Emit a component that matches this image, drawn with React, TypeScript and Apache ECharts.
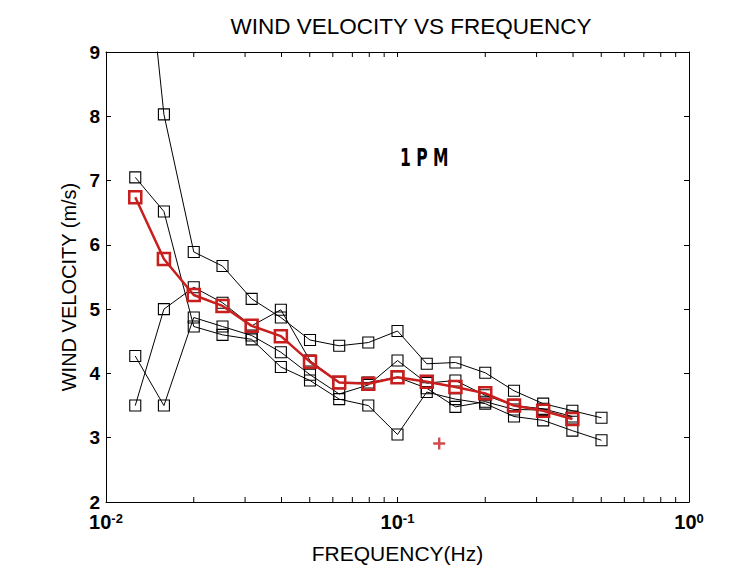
import React, { useEffect, useRef } from "react";
import * as echarts from "echarts";

const FONT = '"Liberation Sans", Arial, Helvetica, sans-serif';
const RED = "#c81e1e";

// Band-centre frequencies (Hz), one per spectral bin
const frequency = [
  0.0126, 0.0158, 0.02, 0.0251, 0.0316, 0.0398, 0.0501, 0.0631, 0.0794, 0.1,
  0.126, 0.158, 0.2, 0.251, 0.316, 0.398, 0.501,
];

// Individual 1 PM runs, wind velocity (m/s) per frequency bin
const runA = [12.3, 8.03, 5.89, 5.67, 5.16, 4.87, 4.52, 4.43, 4.48, 4.66, 4.15, 4.17, 4.01, 3.73, 3.53, 3.42, 3.31];
const runB = [7.05, 6.52, 4.73, 4.6, 4.53, 4.1, 3.89, 3.6, 3.5, 3.05, 3.71, 3.6, 3.53, 3.33, 3.27, 3.11, 2.96];
const runC = [4.27, 3.5, 4.87, 4.73, 4.59, 4.33, 3.98, 3.68, 3.82, 4.2, 3.85, 3.89, 3.66, 3.5, 3.45, 3.33];
const runD = [3.5, 5.0, 5.34, 5.1, 4.74, 4.99, 4.2, 3.86, 3.86, 3.94, 3.77, 3.48, 3.56, 3.44, 3.43, 3.3];

// Ensemble mean of the runs
const meanVelocity = [6.74, 5.78, 5.22, 5.05, 4.74, 4.58, 4.18, 3.86, 3.84, 3.94, 3.87, 3.79, 3.69, 3.5, 3.42, 3.29];

// Single isolated reading [frequency, velocity]
const isolatedReading = [0.139, 2.91];

// Log-axis minor tick positions (2..9 within each decade)
const minorTickFreqs = [
  0.02, 0.03, 0.04, 0.05, 0.06, 0.07, 0.08, 0.09,
  0.2, 0.3, 0.4, 0.5, 0.6, 0.7, 0.8, 0.9,
];

const Y_MIN = 2;
const Y_MAX = 9;
const Y_STEP = 1;
const X_MIN = 0.01;
const X_MAX = 1;

const pairs = (ys: number[]) => ys.map((y, i) => [frequency[i], y]);

const blackRun = (name: string, ys: number[]) => ({
  name,
  type: "line",
  data: pairs(ys),
  symbol: "rect",
  symbolSize: 11,
  clip: true,
  lineStyle: { color: "#000", width: 1 },
  itemStyle: { color: "rgba(0,0,0,0)", borderColor: "#000", borderWidth: 1.1 },
  emphasis: { disabled: true },
  z: 2,
});

export default function App() {
  const ref = useRef<HTMLDivElement>(null);

  useEffect(() => {
    document.body.style.margin = "0";
    if (!ref.current) return;
    const chart = echarts.init(ref.current, null, { renderer: "svg" });

    const tickLen = 5;

    chart.setOption({
      animation: false,
      backgroundColor: "#fff",
      textStyle: { fontFamily: FONT },
      title: {
        text: "WIND VELOCITY VS FREQUENCY",
        left: 406,
        textAlign: "center",
        top: 10,
        textStyle: { fontFamily: FONT, fontSize: 22.5, fontWeight: "normal", color: "#000" },
      },
      grid: { left: 106, right: 55, top: 52, bottom: 66 },
      xAxis: [
        {
          type: "log",
          logBase: 10,
          min: X_MIN,
          max: X_MAX,
          name: "FREQUENCY(Hz)",
          nameLocation: "middle",
          nameGap: 41,
          nameTextStyle: { fontFamily: FONT, fontSize: 21, color: "#000" },
          axisLine: { lineStyle: { color: "#000", width: 1 } },
          axisTick: { inside: true, length: tickLen, lineStyle: { color: "#000" } },
          splitLine: { show: false },
          axisLabel: {
            margin: 10,
            showMinLabel: true,
            showMaxLabel: true,
            formatter: (v: number) => `{b|10}{e|${Math.round(Math.log10(v))}}`,
            rich: {
              b: { fontFamily: FONT, fontSize: 20, fontWeight: "bold", color: "#000" },
              e: { fontFamily: FONT, fontSize: 13, fontWeight: "bold", color: "#000", verticalAlign: "top" },
            },
          },
        },
        {
          type: "log",
          logBase: 10,
          min: X_MIN,
          max: X_MAX,
          position: "top",
          axisLine: { lineStyle: { color: "#000", width: 1 } },
          axisTick: { inside: true, length: tickLen, lineStyle: { color: "#000" } },
          axisLabel: { show: false },
          splitLine: { show: false },
        },
      ],
      yAxis: [
        {
          type: "value",
          min: Y_MIN,
          max: Y_MAX,
          interval: Y_STEP,
          axisLine: { show: true, lineStyle: { color: "#000", width: 1 } },
          axisTick: { show: true, inside: true, length: tickLen, lineStyle: { color: "#000" } },
          splitLine: { show: false },
          axisLabel: { margin: 6, fontFamily: FONT, fontSize: 19, fontWeight: "bold", color: "#000" },
        },
        {
          type: "value",
          min: Y_MIN,
          max: Y_MAX,
          interval: Y_STEP,
          position: "right",
          axisLine: { show: true, lineStyle: { color: "#000", width: 1 } },
          axisTick: { show: true, inside: true, length: tickLen, lineStyle: { color: "#000" } },
          axisLabel: { show: false },
          splitLine: { show: false },
        },
      ],
      graphic: [
        {
          // vertical axis title
          type: "text",
          x: 69,
          y: 287,
          rotation: Math.PI / 2,
          style: {
            text: "WIND VELOCITY (m/s)",
            font: `20px ${FONT}`,
            fill: "#000",
            align: "center",
            verticalAlign: "middle",
          },
        },
        {
          type: "text",
          left: 400,
          top: 146,
          scaleX: 0.72,
          style: {
            text: "1 P M",
            font: `bold 24px "DejaVu Sans Condensed", "DejaVu Sans", sans-serif`,
            fill: "#000",
          },
        },
      ],
      series: [
        {
          name: "minor ticks",
          type: "custom",
          silent: true,
          clip: false,
          data: minorTickFreqs.map((f) => [f, Y_MIN]),
          renderItem: (_params: any, api: any) => {
            const f = api.value(0);
            const b = api.coord([f, Y_MIN]);
            const t = api.coord([f, Y_MAX]);
            const st = { stroke: "#000", lineWidth: 1 };
            return {
              type: "group",
              children: [
                { type: "line", shape: { x1: b[0], y1: b[1], x2: b[0], y2: b[1] - tickLen }, style: st },
                { type: "line", shape: { x1: t[0], y1: t[1], x2: t[0], y2: t[1] + tickLen }, style: st },
              ],
            };
          },
          z: 1,
        },
        blackRun("run A", runA),
        blackRun("run B", runB),
        blackRun("run C", runC),
        blackRun("run D", runD),
        {
          name: "mean",
          type: "line",
          data: pairs(meanVelocity),
          symbol: "rect",
          symbolSize: 12,
          clip: true,
          lineStyle: { color: RED, width: 2.5 },
          itemStyle: { color: "rgba(0,0,0,0)", borderColor: RED, borderWidth: 2.5 },
          emphasis: { disabled: true },
          z: 3,
        },
        {
          name: "isolated",
          type: "scatter",
          data: [isolatedReading],
          symbol: "path://M4,0H6V4H10V6H6V10H4V6H0V4H4Z",
          symbolSize: 12,
          itemStyle: { color: RED },
          z: 3,
        },
      ],
    });

    return () => chart.dispose();
  }, []);

  return <div ref={ref} style={{ width: 744, height: 569 }} />;
}
